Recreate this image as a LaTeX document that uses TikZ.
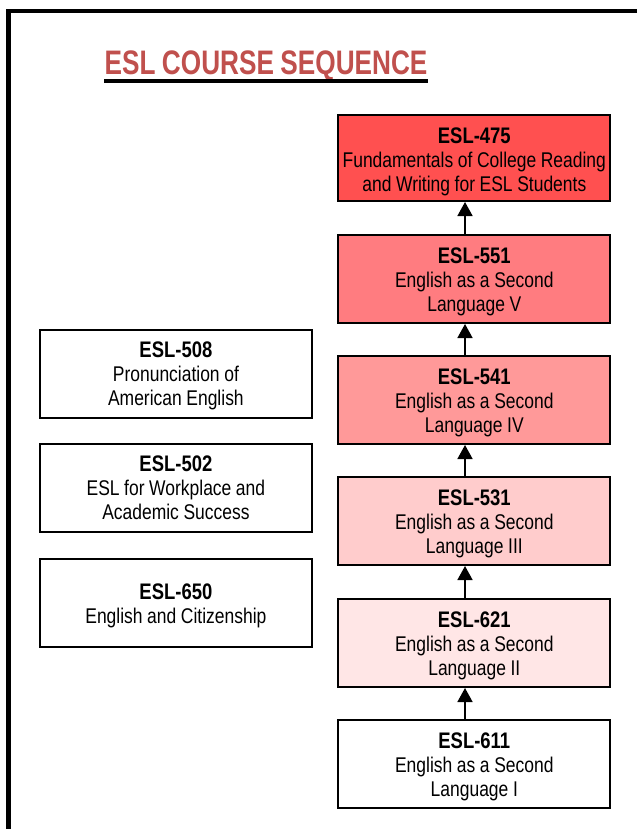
\documentclass[tikz,border=0pt]{standalone}
\usepackage{fontspec}
\newfontfamily\nf[FakeStretch=0.82]{Liberation Sans}
\newfontfamily\tf[FakeStretch=0.77]{Liberation Sans}
\usetikzlibrary{arrows.meta,calc}
\definecolor{titlered}{RGB}{192,80,77}
\definecolor{cA}{RGB}{255,80,80}
\definecolor{cB}{RGB}{255,124,128}
\definecolor{cC}{RGB}{255,153,153}
\definecolor{cD}{RGB}{255,204,204}
\definecolor{cE}{RGB}{255,230,230}
\newcommand\crs[1]{{\fontsize{22.5}{24}\selectfont\bfseries #1}}
\newcommand\bodyfont{\nf\fontsize{21.3}{24}\selectfont}
\newcommand\titlefont{\tf\fontsize{34}{38}\selectfont\bfseries}
\begin{document}
\begin{tikzpicture}[x=1pt,y=-1pt,
  box/.style={draw=black, line width=2pt, inner sep=0pt, text width=272pt,
    minimum width=272pt, align=center, anchor=north,
    font=\bodyfont, text height=28.5pt, text depth=59.5pt,
    execute at begin node={\spaceskip=4.6pt\xspaceskip=4.6pt\relax}},
  lbox/.style={box, text height=27.5pt, text depth=60.5pt},
  arr/.style={line width=1.6pt, -{Triangle[width=15pt,length=14pt]}}]
\useasboundingbox (0,0) rectangle (637,829);
\fill[white] (0,0) rectangle (637,829);
% frame
\draw[line width=4.5pt, line join=miter] (637,11) -- (8.5,11) -- (8.5,829);
% title
\node[font=\titlefont, text=titlered, inner sep=0pt, anchor=base,
  execute at begin node={\spaceskip=6.5pt\relax}] (title) at (266,75) {ESL COURSE SEQUENCE};
\draw[line width=3.5pt] ($(title.base west)+(0,6)$) -- ($(title.base east)+(0,6)$);
% right column
\node[box, fill=cA, text depth=57.5pt] (b475) at (474.3,114) {\crs{ESL-475}\\Fundamentals of College Reading\\and Writing for ESL Students};
\node[box, fill=cB] (b551) at (474.3,234) {\crs{ESL-551}\\English as a Second\\Language V};
\node[box, fill=cC] (b541) at (474.3,355) {\crs{ESL-541}\\English as a Second\\Language IV};
\node[box, fill=cD] (b531) at (474.3,476) {\crs{ESL-531}\\English as a Second\\Language III};
\node[box, fill=cE] (b621) at (474.3,598) {\crs{ESL-621}\\English as a Second\\Language II};
\node[box, fill=white] (b611) at (474.3,719) {\crs{ESL-611}\\English as a Second\\Language I};
% left column
\node[lbox, fill=white] (b508) at (175.9,329) {\crs{ESL-508}\\Pronunciation of\\American English};
\node[lbox, fill=white] (b502) at (175.9,443) {\crs{ESL-502}\\ESL for Workplace and\\Academic Success};
\node[lbox, fill=white, text height=40.3pt, text depth=47.7pt] (b650) at (175.9,558) {\crs{ESL-650}\\English and Citizenship};
% arrows
\coordinate (ax) at (465,0);
\draw[arr] (b611.north -| ax) -- (b621.south -| ax);
\draw[arr] (b621.north -| ax) -- (b531.south -| ax);
\draw[arr] (b531.north -| ax) -- (b541.south -| ax);
\draw[arr] (b541.north -| ax) -- (b551.south -| ax);
\draw[arr] (b551.north -| ax) -- (b475.south -| ax);
\end{tikzpicture}
\end{document}
